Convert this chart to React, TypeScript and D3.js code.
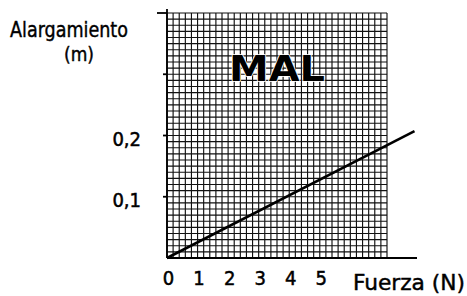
import * as d3 from 'd3'
import React from 'react'

// values
const xTicks = [0, 1, 2, 3, 4, 5]
const yTicks = [0.1, 0.2, 0.3, 0.4]
const yTickLabels: { [k: string]: string } = { '0.1': '0,1', '0.2': '0,2' }
const fuerza = [0, 8.1]
const alargamiento = [0, 0.207]

const gridMaxX = 7.2 // 36 cells of 0.2 N
const gridMaxY = 0.4 // 40 cells of 0.01 m
const cellX = 0.2
const cellY = 0.01

const W = 467
const H = 296
const font = '"Liberation Sans Narrow", "DejaVu Sans Condensed", "Liberation Sans", sans-serif'

export default function App() {
    const x = d3.scaleLinear().domain([0, gridMaxX]).range([167, 387])
    const y = d3.scaleLinear().domain([0, gridMaxY]).range([258, 13])

    const vLines = d3.range(0, Math.round(gridMaxX / cellX) + 1).map((i) => x(i * cellX))
    const hLines = d3.range(0, Math.round(gridMaxY / cellY) + 1).map((i) => y(i * cellY))

    const line = d3
        .line<number>()
        .x((d) => x(d))
        .y((d, i) => y(alargamiento[i]))

    return (
        <div style={{ position: 'fixed', left: 0, top: 0 }}>
            <svg width={W} height={H} viewBox={`0 0 ${W} ${H}`} style={{ background: '#fff', display: 'block' }}>
                {/* grid paper */}
                <g stroke="#111" strokeWidth={1.15}>
                    {vLines.map((px, i) => (
                        <line key={'v' + i} x1={px} x2={px} y1={y(0)} y2={y(gridMaxY)} />
                    ))}
                    {hLines.map((py, i) => (
                        <line key={'h' + i} x1={x(0)} x2={x(gridMaxX)} y1={py} y2={py} />
                    ))}
                </g>

                {/* axes */}
                <g stroke="#000" strokeWidth={1.8} fill="none">
                    <line x1={x(0)} x2={417} y1={y(0)} y2={y(0)} />
                    <line x1={x(0)} x2={x(0)} y1={y(0)} y2={9} />
                    {yTicks.map((t) => (
                        <line key={t} x1={t === 0.4 ? 157 : 163} x2={x(0)} y1={y(t)} y2={y(t)} />
                    ))}
                </g>

                {/* MAL stamp */}
                <text
                    x={277}
                    y={81}
                    textAnchor="middle"
                    fontFamily='"DejaVu Sans", sans-serif'
                    fontWeight="bold"
                    fontSize={35}
                    textLength={96}
                    lengthAdjust="spacingAndGlyphs"
                    fill="#000"
                    stroke="#fff"
                    strokeWidth={1.5}
                    paintOrder="stroke"
                >
                    MAL
                </text>

                {/* data line */}
                <path d={line(fuerza) || ''} stroke="#000" strokeWidth={2.6} fill="none" />

                {/* tick labels */}
                <g fontFamily={font} fontSize={20} fill="#000" stroke="#000" strokeWidth={0.5}>
                    {xTicks.map((t) => (
                        <text key={t} x={x(t) + 1.5} y={285} textAnchor="middle">
                            {t}
                        </text>
                    ))}
                    {yTicks
                        .filter((t) => yTickLabels[String(t)])
                        .map((t) => (
                            <text key={t} x={141} y={y(t) + 10} textAnchor="end">
                                {yTickLabels[String(t)]}
                            </text>
                        ))}
                </g>

                {/* axis titles */}
                <g fontFamily={font} fill="#000" stroke="#000" strokeWidth={0.4}>
                    <text x={10} y={37} fontSize={22} textLength={118} lengthAdjust="spacingAndGlyphs">
                        Alargamiento
                    </text>
                    <text x={79} y={61} fontSize={19} textAnchor="middle">
                        (m)
                    </text>
                    <text x={353} y={290} fontSize={21} textLength={112} lengthAdjust="spacingAndGlyphs">
                        Fuerza (N)
                    </text>
                </g>
            </svg>
        </div>
    )
}
